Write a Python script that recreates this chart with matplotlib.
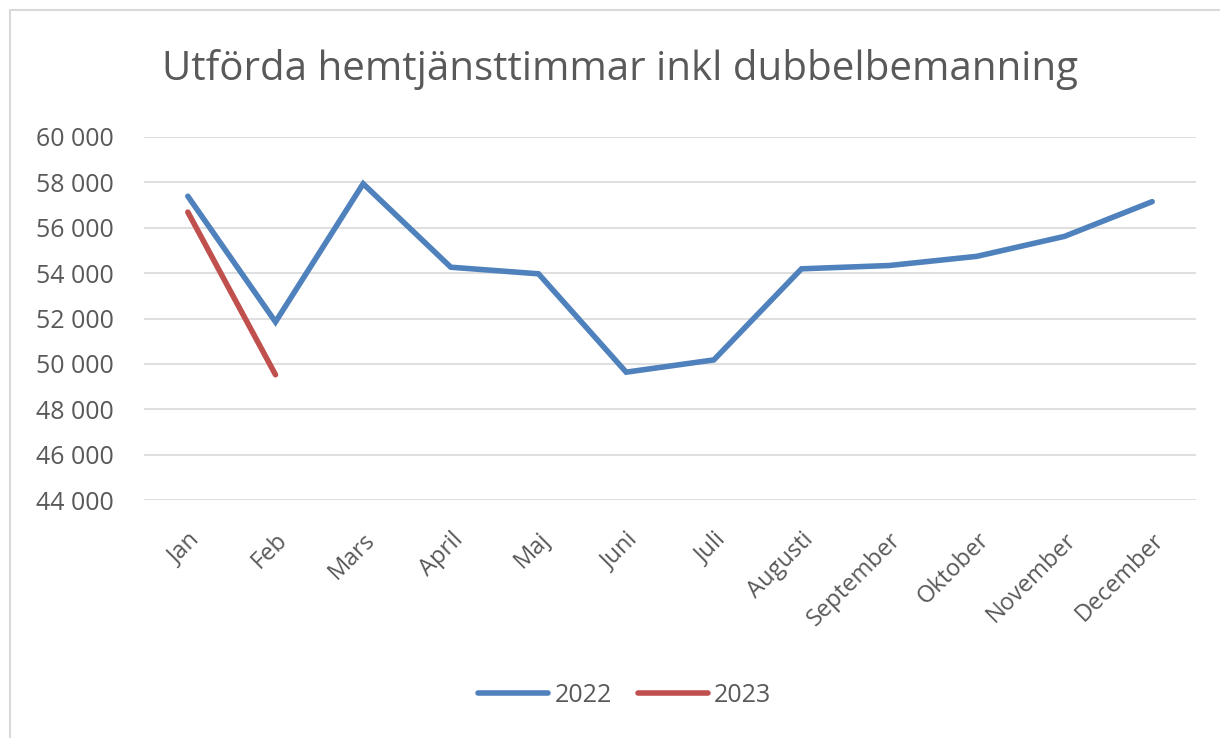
# Line chart: executed home-care hours per month, 2022 vs 2023
import numpy as np
import matplotlib.pyplot as plt
from matplotlib.patches import Rectangle
from matplotlib.ticker import FuncFormatter

plt.rcParams['font.family'] = ['Open Sans', 'DejaVu Sans']

months = ['Jan', 'Feb', 'Mars', 'April', 'Maj', 'Juni', 'Juli', 'Augusti',
          'September', 'Oktober', 'November', 'December']
hours_2022 = [57390, 51850, 57940, 54260, 53970, 49635, 50175, 54190,
              54335, 54740, 55620, 57150]
hours_2023 = [56690, 49520]

grey = '#595959'

fig = plt.figure(figsize=(12.2, 7.38), dpi=100)
ax = fig.add_axes([144 / 1220, 1 - 500 / 738, (1196 - 144) / 1220, (500 - 137) / 738])

x = np.arange(len(months))
ax.plot(x, hours_2022, color='#4F81BD', lw=4.0, solid_capstyle='round',
        solid_joinstyle='miter', label='2022')
ax.plot(x[:len(hours_2023)], hours_2023, color='#C0504D', lw=4.0,
        solid_capstyle='round', label='2023')

ax.set_xlim(-0.5, len(months) - 0.5)
ax.set_ylim(44000, 60000)
ax.set_yticks(np.arange(44000, 60001, 2000))
ax.yaxis.set_major_formatter(FuncFormatter(lambda v, p: f'{int(v):,}'.replace(',', ' ')))
ax.grid(axis='y', color='#d9d9d9', lw=1.2)
ax.set_axisbelow(True)
for s in ax.spines.values():
    s.set_visible(False)

ax.set_xticks(x)
ax.set_xticklabels(months, rotation=45, ha='right', rotation_mode='anchor')
ax.tick_params(axis='both', length=0, colors=grey)
ax.tick_params(axis='x', pad=20, labelsize=17)
ax.tick_params(axis='y', pad=22, labelsize=18)

fig.text(0.508, 1 - 70 / 738, 'Utförda hemtjänsttimmar inkl dubbelbemanning',
         ha='center', va='center', fontsize=29, color=grey)

fig.legend(loc='center', bbox_to_anchor=(0.512, 1 - 695 / 738), ncol=2, frameon=False,
           fontsize=18, labelcolor=grey, handlelength=2.8, handletextpad=0.24,
           columnspacing=1.04)

fig.patches.append(Rectangle((10 / 1220, -0.01), 1.1, 1 - 10 / 738 + 0.01,
                             transform=fig.transFigure, fill=False,
                             edgecolor='#d9d9d9', lw=1.5))

plt.savefig('out.png')
